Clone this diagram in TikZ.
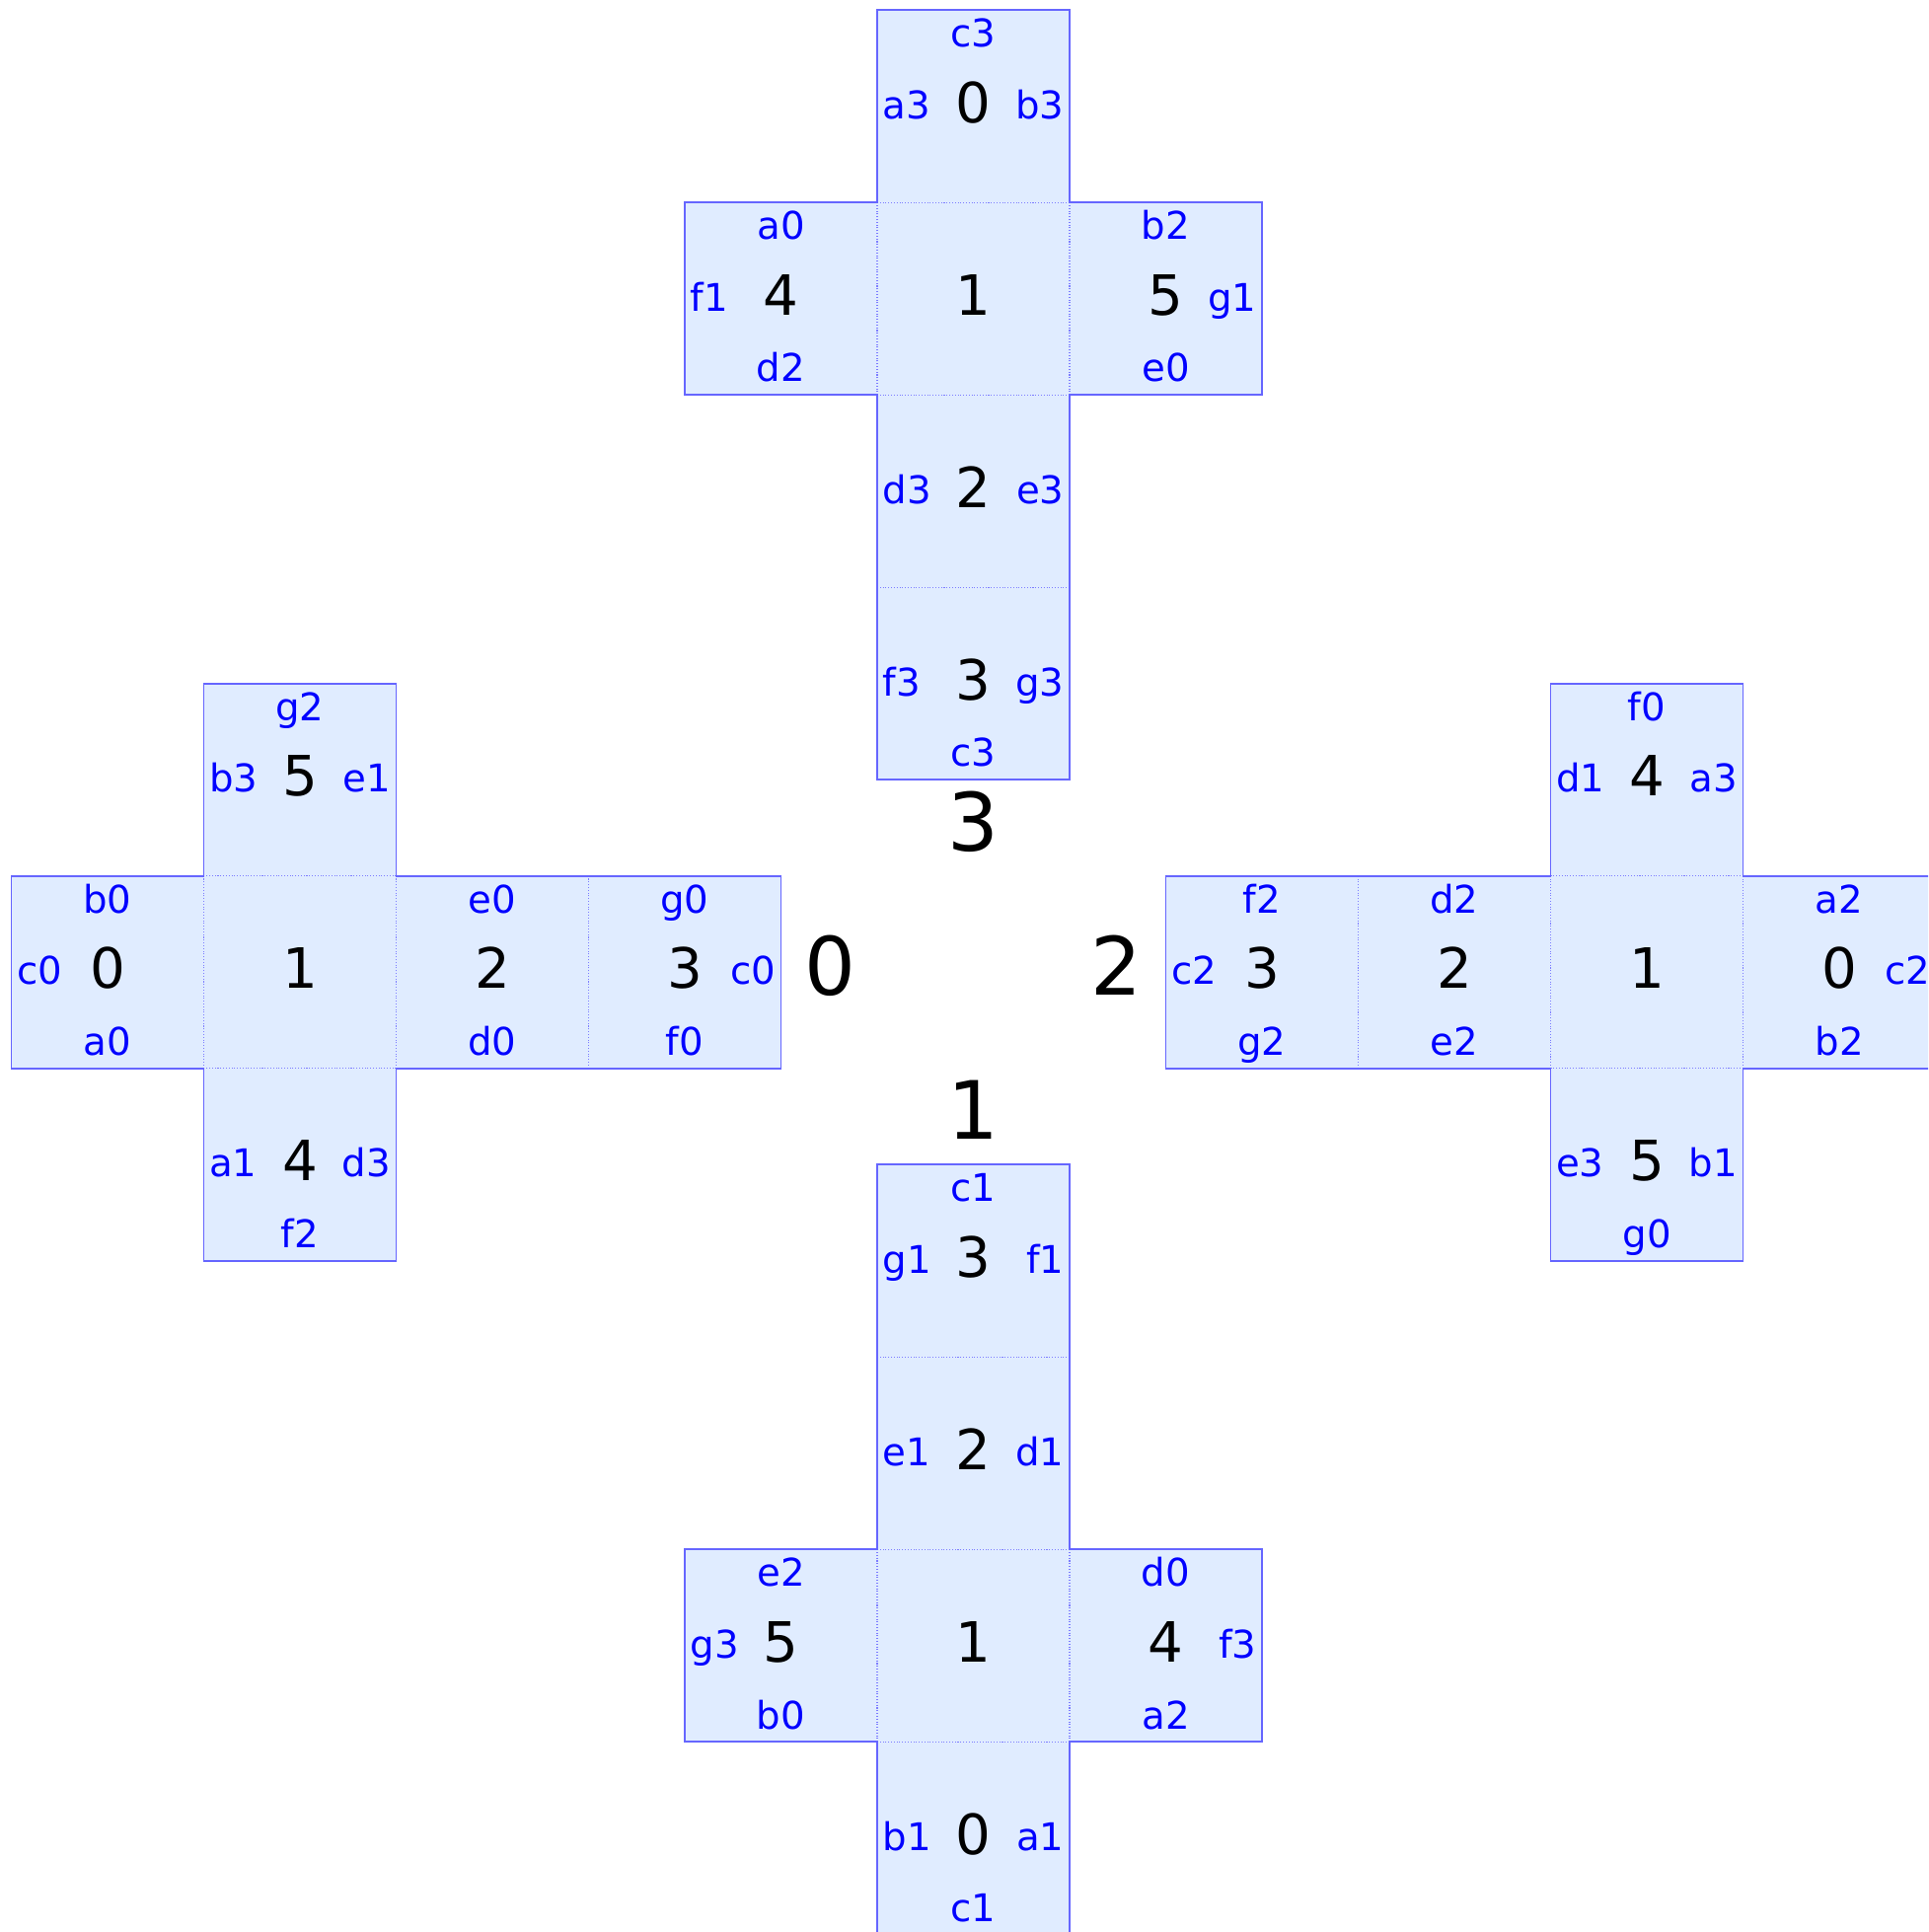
\documentclass[tikz,border=0pt]{standalone}
\usepackage{fontspec}
\setmainfont{DejaVu Sans}
\definecolor{facefill}{RGB}{224,236,255}
\definecolor{edgeblue}{RGB}{102,102,255}
\definecolor{lblblue}{RGB}{0,0,255}
\tikzset{
  edgeline/.style={draw=edgeblue, line width=0.5pt, line join=miter},
  seam/.style={draw=edgeblue!85, line width=0.3pt, dash pattern=on 0.3pt off 0.5pt},
  facenum/.style={anchor=base, inner sep=0pt, font=\fontsize{16}{17}\selectfont, text=black, yshift=-0.166cm},
  bignum/.style={anchor=base, inner sep=0pt, font=\fontsize{23.2}{24}\selectfont, text=black},
  lbl/.style={inner sep=0pt, font=\fontsize{11}{12}\selectfont, text=lblblue},
  toplbl/.style={lbl, anchor=base, yshift=0.600cm},
  botlbl/.style={lbl, anchor=base, yshift=-0.843cm},
  leftlbl/.style={lbl, anchor=base west, xshift=-0.926cm, yshift=-0.125cm},
  rightlbl/.style={lbl, anchor=base east, xshift=0.926cm, yshift=-0.125cm},
}
\newcommand\crossgeom{%
  \fill[facefill] (-0.5,5) -- (0.5,5) -- (0.5,4) -- (1.5,4) -- (1.5,3) -- (0.5,3) -- (0.5,1) -- (-0.5,1) -- (-0.5,3) -- (-1.5,3) -- (-1.5,4) -- (-0.5,4) -- cycle;
  \draw[seam] (-0.5,4) -- (0.5,4) (-0.5,3) -- (-0.5,4) (0.5,3) -- (0.5,4) (-0.5,3) -- (0.5,3) (-0.5,2) -- (0.5,2);
  \draw[edgeline] (-0.5,5) -- (0.5,5) -- (0.5,4) -- (1.5,4) -- (1.5,3) -- (0.5,3) -- (0.5,1) -- (-0.5,1) -- (-0.5,3) -- (-1.5,3) -- (-1.5,4) -- (-0.5,4) -- cycle;
}
\begin{document}
\begin{tikzpicture}[x=1.95cm,y=1.95cm]
\clip (-5.059,-4.9887) rectangle (4.9615,5.0523);
\begin{scope}\crossgeom\end{scope}
\begin{scope}[rotate=90]\crossgeom\end{scope}
\begin{scope}[rotate=180]\crossgeom\end{scope}
\begin{scope}[rotate=-90]\crossgeom\end{scope}

% big labels
\node[bignum] (big3) at (0,0.63) {3};
\node[bignum] (big1) at (0,-0.868) {1};
\node[bignum] (big0) at (-0.745,-0.12) {0};
\node[bignum] (big2) at (0.745,-0.12) {2};

% ---------- top cross ----------
\node[facenum] (T0) at (0,4.5) {0};
\node[toplbl] (T0t) at (0,4.5) {c3};
\node[leftlbl] (T0l) at (0,4.5) {a3};
\node[rightlbl] (T0r) at (0,4.5) {b3};
\node[facenum] (T4) at (-1,3.5) {4};
\node[toplbl] (T4t) at (-1,3.5) {a0};
\node[leftlbl] (T4l) at (-1,3.5) {f1};
\node[botlbl] (T4b) at (-1,3.5) {d2};
\node[facenum] (T1) at (0,3.5) {1};
\node[facenum] (T5) at (1,3.5) {5};
\node[toplbl] (T5t) at (1,3.5) {b2};
\node[rightlbl] (T5r) at (1,3.5) {g1};
\node[botlbl] (T5b) at (1,3.5) {e0};
\node[facenum] (T2) at (0,2.5) {2};
\node[leftlbl] (T2l) at (0,2.5) {d3};
\node[rightlbl] (T2r) at (0,2.5) {e3};
\node[facenum] (T3) at (0,1.5) {3};
\node[leftlbl] (T3l) at (0,1.5) {f3};
\node[rightlbl] (T3r) at (0,1.5) {g3};
\node[botlbl] (T3b) at (0,1.5) {c3};

% ---------- left cross ----------
\node[facenum] (L5) at (-3.5,1) {5};
\node[toplbl] (L5t) at (-3.5,1) {g2};
\node[leftlbl] (L5l) at (-3.5,1) {b3};
\node[rightlbl] (L5r) at (-3.5,1) {e1};
\node[facenum] (L0) at (-4.5,0) {0};
\node[toplbl] (L0t) at (-4.5,0) {b0};
\node[leftlbl] (L0l) at (-4.5,0) {c0};
\node[botlbl] (L0b) at (-4.5,0) {a0};
\node[facenum] (L1) at (-3.5,0) {1};
\node[facenum] (L2) at (-2.5,0) {2};
\node[toplbl] (L2t) at (-2.5,0) {e0};
\node[botlbl] (L2b) at (-2.5,0) {d0};
\node[facenum] (L3) at (-1.5,0) {3};
\node[toplbl] (L3t) at (-1.5,0) {g0};
\node[rightlbl] (L3r) at (-1.5,0) {c0};
\node[botlbl] (L3b) at (-1.5,0) {f0};
\node[facenum] (L4) at (-3.5,-1) {4};
\node[leftlbl] (L4l) at (-3.5,-1) {a1};
\node[rightlbl] (L4r) at (-3.5,-1) {d3};
\node[botlbl] (L4b) at (-3.5,-1) {f2};

% ---------- right cross ----------
\node[facenum] (R4) at (3.5,1) {4};
\node[toplbl] (R4t) at (3.5,1) {f0};
\node[leftlbl] (R4l) at (3.5,1) {d1};
\node[rightlbl] (R4r) at (3.5,1) {a3};
\node[facenum] (R3) at (1.5,0) {3};
\node[toplbl] (R3t) at (1.5,0) {f2};
\node[leftlbl] (R3l) at (1.5,0) {c2};
\node[botlbl] (R3b) at (1.5,0) {g2};
\node[facenum] (R2) at (2.5,0) {2};
\node[toplbl] (R2t) at (2.5,0) {d2};
\node[botlbl] (R2b) at (2.5,0) {e2};
\node[facenum] (R1) at (3.5,0) {1};
\node[facenum] (R0) at (4.5,0) {0};
\node[toplbl] (R0t) at (4.5,0) {a2};
\node[rightlbl] (R0r) at (4.5,0) {c2};
\node[botlbl] (R0b) at (4.5,0) {b2};
\node[facenum] (R5) at (3.5,-1) {5};
\node[leftlbl] (R5l) at (3.5,-1) {e3};
\node[rightlbl] (R5r) at (3.5,-1) {b1};
\node[botlbl] (R5b) at (3.5,-1) {g0};

% ---------- bottom cross ----------
\node[facenum] (B3) at (0,-1.5) {3};
\node[toplbl] (B3t) at (0,-1.5) {c1};
\node[leftlbl] (B3l) at (0,-1.5) {g1};
\node[rightlbl] (B3r) at (0,-1.5) {f1};
\node[facenum] (B2) at (0,-2.5) {2};
\node[leftlbl] (B2l) at (0,-2.5) {e1};
\node[rightlbl] (B2r) at (0,-2.5) {d1};
\node[facenum] (B5) at (-1,-3.5) {5};
\node[toplbl] (B5t) at (-1,-3.5) {e2};
\node[leftlbl] (B5l) at (-1,-3.5) {g3};
\node[botlbl] (B5b) at (-1,-3.5) {b0};
\node[facenum] (B1) at (0,-3.5) {1};
\node[facenum] (B4) at (1,-3.5) {4};
\node[toplbl] (B4t) at (1,-3.5) {d0};
\node[rightlbl] (B4r) at (1,-3.5) {f3};
\node[botlbl] (B4b) at (1,-3.5) {a2};
\node[facenum] (B0) at (0,-4.5) {0};
\node[leftlbl] (B0l) at (0,-4.5) {b1};
\node[rightlbl] (B0r) at (0,-4.5) {a1};
\node[botlbl] (B0b) at (0,-4.5) {c1};
\end{tikzpicture}
\end{document}
